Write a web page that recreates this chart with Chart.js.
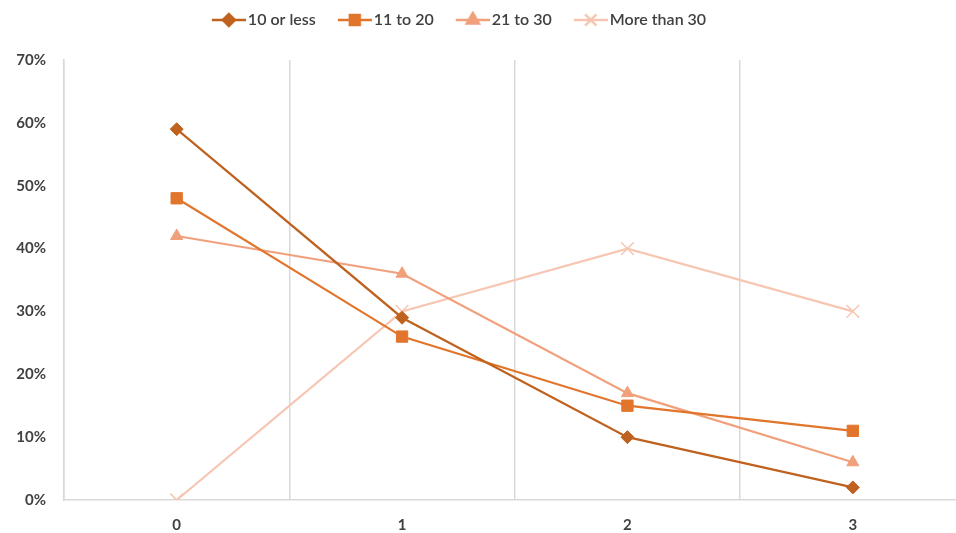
<!DOCTYPE html>
<html>
<head>
<meta charset="utf-8">
<script src="https://cdn.jsdelivr.net/npm/chart.js@4/dist/chart.umd.min.js"></script>
<style>
  html, body { margin: 0; padding: 0; background: #fff; overflow: hidden; }
  #wrap { width: 976px; height: 533px; }
</style>
</head>
<body>
<div id="wrap"><canvas id="chart"></canvas></div>
<script>
const kategorije = ['0', '1', '2', '3'];
const do10 = [59, 29, 10, 2];
const od11do20 = [48, 26, 15, 11];
const od21do30 = [42, 36, 17, 6];
const preko30 = [0, 30, 40, 30];
const nazivi = ['10 or less', '11 to 20', '21 to 30', 'More than 30'];

const boje = ['#c0621f', '#e2752c', '#f1a07c', '#f6c6b2'];
const stilovi = ['rectRot', 'rect', 'triangle', 'crossRot'];
const velicine = [6.5, 8, 7, 9];

// slicica za legendu: prazan prostor lijevo + linija + marker
function legendaIkona(boja, stil, r) {
  const c = document.createElement('canvas');
  c.width = 52; c.height = 18;
  const ctx = c.getContext('2d');
  ctx.strokeStyle = boja;
  ctx.fillStyle = boja;
  ctx.lineWidth = 2.5;
  ctx.beginPath(); ctx.moveTo(18, 9); ctx.lineTo(52, 9); ctx.stroke();
  Chart.helpers.drawPoint(ctx, {
    pointStyle: stil, radius: r, rotation: 0, borderWidth: 1.5
  }, 35, 9);
  if (stil !== 'crossRot') ctx.fill();
  return c;
}

const serije = [do10, od11do20, od21do30, preko30].map((vrijednosti, i) => ({
  label: nazivi[i],
  data: vrijednosti,
  borderColor: boje[i],
  backgroundColor: boje[i],
  borderWidth: 2.2,
  pointStyle: stilovi[i],
  pointRadius: velicine[i],
  pointHoverRadius: velicine[i],
  pointBorderWidth: i === 3 ? 1.5 : 1,
  tension: 0
}));

// razmak ispod legende i pomak legende ulijevo
const razmakLegende = {
  id: 'razmakLegende',
  beforeInit(chart) {
    const fit = chart.legend.fit;
    chart.legend.fit = function () {
      fit.bind(chart.legend)();
      this.height += 22;
    };
  },
  afterLayout(chart) {
    chart.legend.right -= 70;
  }
};

new Chart(document.getElementById('chart').getContext('2d'), {
  type: 'line',
  data: { labels: kategorije, datasets: serije },
  plugins: [razmakLegende],
  options: {
    responsive: true,
    maintainAspectRatio: false,
    animation: false,
    layout: { padding: { top: 2, left: 0, right: 0, bottom: 0 } },
    plugins: {
      legend: {
        position: 'top',
        labels: {
          usePointStyle: true,
          pointStyleWidth: 40,
          color: '#404040',
          font: { family: 'Lato', size: 16, weight: '600' },
          padding: 10,
          generateLabels: (chart) => chart.data.datasets.map((ds, i) => ({
            text: ds.label,
            pointStyle: legendaIkona(boje[i], stilovi[i], [6, 7, 7, 8][i]),
            fillStyle: boje[i],
            strokeStyle: boje[i],
            lineWidth: 0,
            datasetIndex: i,
            fontColor: '#404040'
          }))
        }
      },
      tooltip: { enabled: false }
    },
    scales: {
      x: {
        offset: true,
        grid: { display: true, offset: true, color: '#d9d9d9', lineWidth: 1.5, drawTicks: false },
        border: { display: true, color: '#d9d9d9', width: 1.5 },
        ticks: { color: '#404040', font: { family: 'Lato', size: 15, weight: 'bold' }, padding: 16 },
        afterFit: (s) => { s.height = 33; }
      },
      y: {
        min: 0,
        max: 70,
        ticks: {
          stepSize: 10,
          color: '#404040',
          font: { family: 'Lato', size: 15, weight: 'bold' },
          padding: 18,
          callback: (v) => v + '%'
        },
        grid: { display: false, drawTicks: false },
        border: { display: true, color: '#d9d9d9', width: 1.5 },
        afterFit: (s) => { s.width = 64; }
      }
    }
  }
});
</script>
</body>
</html>
